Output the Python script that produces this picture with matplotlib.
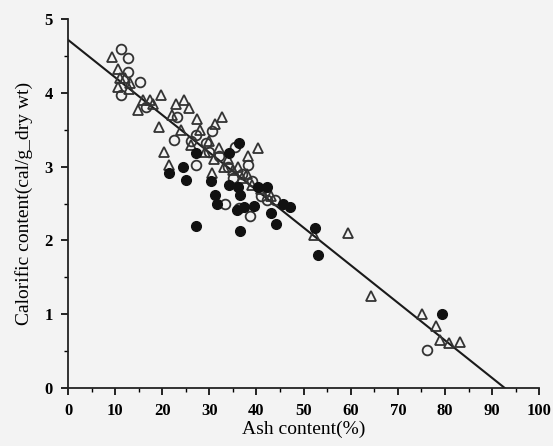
import numpy as np
import matplotlib
matplotlib.use("Agg")
import matplotlib.pyplot as plt
from matplotlib.ticker import MultipleLocator

# open circles
oc_x = [11.3, 12.7, 12.7, 11.3, 15.2, 16.6, 23.2, 22.5, 27.1, 33.4, 30.6, 29.2,
        27.1, 36.2, 38.7, 35.4, 38.3, 42.3, 26.0, 30.0, 32.0, 34.0, 37.0, 39.0,
        41.0, 44.0, 35.0, 76.2]
oc_y = [4.60, 4.47, 4.29, 3.97, 4.15, 3.81, 3.68, 3.36, 3.02, 2.50, 3.48, 3.32,
        3.43, 2.44, 2.33, 3.27, 3.02, 2.55, 3.35, 3.20, 3.15, 3.00, 2.90, 2.80,
        2.60, 2.55, 2.85, 0.51]

# filled circles
fc_x = [21.5, 24.3, 25.0, 27.1, 30.3, 31.3, 31.7, 34.1, 34.1, 36.1, 36.6, 35.9,
        37.3, 39.4, 40.4, 42.2, 43.1, 44.1, 45.7, 47.1, 36.2, 27.1, 36.4, 52.4,
        53.1, 79.4]
fc_y = [2.91, 3.00, 2.82, 3.18, 2.80, 2.62, 2.50, 3.18, 2.75, 2.73, 2.62, 2.41,
        2.46, 2.47, 2.73, 2.72, 2.37, 2.23, 2.50, 2.46, 3.32, 2.20, 2.13, 2.17,
        1.80, 1.00]

# triangles
tr_x = [9.4, 10.6, 10.6, 13.1, 14.8, 17.3, 19.7, 19.4, 20.4, 24.6, 25.7, 27.4,
        32.7, 31.3, 40.4, 38.3, 21.5, 30.6, 26.0, 28.0, 29.0, 30.0, 31.0, 32.0,
        33.0, 34.0, 35.0, 36.0, 37.0, 38.0, 39.0, 41.0, 43.0, 22.0, 23.0, 24.0,
        16.0, 18.0, 12.0, 11.0, 13.0, 52.2, 59.4, 64.3, 75.2, 78.2, 79.0, 80.8,
        83.2]
tr_y = [4.49, 4.33, 4.08, 4.13, 3.77, 3.90, 3.97, 3.54, 3.20, 3.90, 3.79, 3.65,
        3.68, 3.58, 3.25, 3.14, 3.02, 2.91, 3.30, 3.50, 3.20, 3.35, 3.10, 3.25,
        3.00, 3.10, 2.95, 3.00, 2.85, 2.90, 2.75, 2.70, 2.60, 3.70, 3.85, 3.50,
        3.90, 3.85, 4.20, 4.20, 4.05, 2.07, 2.10, 1.25, 1.00, 0.84, 0.65, 0.61,
        0.63]

# regression line
fit_x = [0, 92.7]
fit_y = [4.72, 0.0]

plt.rcParams['font.family'] = ['Liberation Serif', 'DejaVu Serif']

fig = plt.figure(figsize=(5.53, 4.46), dpi=100, facecolor='#f3f3f3')
ax = fig.add_axes([0.123, 0.130, 0.852, 0.827], facecolor='#f3f3f3')

ax.plot(fit_x, fit_y, color='#1a1a1a', lw=1.5, zorder=1)
ax.plot(tr_x, tr_y, '^', ms=7.5, mfc='none', mec='#333333', mew=1.3, ls='none', zorder=2)
ax.plot(oc_x, oc_y, 'o', ms=7, mfc='none', mec='#333333', mew=1.3, ls='none', zorder=3)
ax.plot(fc_x, fc_y, 'o', ms=7, mfc='#111111', mec='#111111', ls='none', zorder=4)

ax.set_xlim(0, 100)
ax.set_ylim(0, 5)
ax.xaxis.set_major_locator(MultipleLocator(10))
ax.xaxis.set_minor_locator(MultipleLocator(5))
ax.yaxis.set_major_locator(MultipleLocator(1))
ax.yaxis.set_minor_locator(MultipleLocator(0.5))
ax.tick_params(which='major', direction='out', length=5, width=1.2, labelsize=12, pad=6)
ax.tick_params(which='minor', direction='out', length=3, width=1.0)
for lab in ax.get_xticklabels() + ax.get_yticklabels():
    lab.set_fontweight('bold')

for s in ['top', 'right']:
    ax.spines[s].set_visible(False)
for s in ['left', 'bottom']:
    ax.spines[s].set_linewidth(1.3)
    ax.spines[s].set_color('#222222')

ax.set_xlabel('Ash content(%)', fontsize=14, labelpad=1)
ax.set_ylabel('Calorific content(cal/g_dry wt)', fontsize=14, labelpad=8)

fig.savefig('out.png', dpi=100, facecolor=fig.get_facecolor())
